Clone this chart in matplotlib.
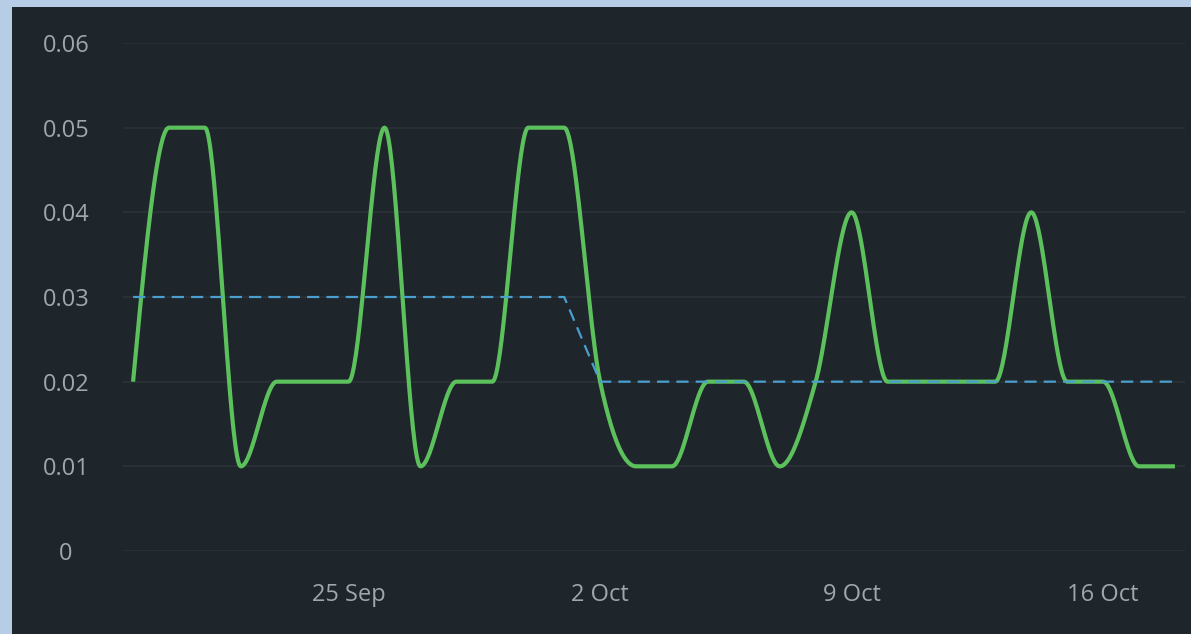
import datetime as dt

import matplotlib.dates as mdates
import matplotlib.pyplot as plt
import numpy as np
from matplotlib.patches import Rectangle
from matplotlib.ticker import FixedLocator, FuncFormatter

# daily values, 19 Sep .. 18 Oct
start = dt.date(2023, 9, 19)
dates = [start + dt.timedelta(days=i) for i in range(30)]
actual = [0.02, 0.05, 0.05, 0.01, 0.02, 0.02, 0.02, 0.05, 0.01, 0.02,
          0.02, 0.05, 0.05, 0.02, 0.01, 0.01, 0.02, 0.02, 0.01, 0.02,
          0.04, 0.02, 0.02, 0.02, 0.02, 0.04, 0.02, 0.02, 0.01, 0.01]
target = [0.03] * 13 + [0.02] * 17
y_ticks = [0, 0.01, 0.02, 0.03, 0.04, 0.05, 0.06]
x_ticks = [dt.date(2023, 9, 25), dt.date(2023, 10, 2),
           dt.date(2023, 10, 9), dt.date(2023, 10, 16)]

BG = "#1e252b"
FRAME = "#b7cde6"
GRID = "#2a3137"
TEXT = "#a0a6ab"
GREEN = "#5cc15d"
BLUE = "#4a9fcf"


def monotone_x(x, y, n=40):
    """Monotone cubic curve through the points (same rule as d3.curveMonotoneX)."""
    x = np.asarray(x, float)
    y = np.asarray(y, float)
    h = np.diff(x)
    s = np.diff(y) / h
    t = np.zeros_like(y)
    for i in range(1, len(y) - 1):
        p = (s[i - 1] * h[i] + s[i] * h[i - 1]) / (h[i - 1] + h[i])
        t[i] = (np.sign(s[i - 1]) + np.sign(s[i])) * min(abs(s[i - 1]), abs(s[i]), 0.5 * abs(p))
    t[0] = (3 * s[0] - t[1]) / 2
    t[-1] = (3 * s[-1] - t[-2]) / 2
    xs, ys = [], []
    u = np.linspace(0, 1, n)
    for i in range(len(x) - 1):
        dx = h[i] / 3
        p0 = (x[i], y[i])
        p1 = (x[i] + dx, y[i] + dx * t[i])
        p2 = (x[i + 1] - dx, y[i + 1] - dx * t[i + 1])
        p3 = (x[i + 1], y[i + 1])
        b = [(1 - u) ** 3, 3 * (1 - u) ** 2 * u, 3 * (1 - u) * u ** 2, u ** 3]
        xs.append(sum(bk * pk[0] for bk, pk in zip(b, (p0, p1, p2, p3))))
        ys.append(sum(bk * pk[1] for bk, pk in zip(b, (p0, p1, p2, p3))))
    return np.concatenate(xs), np.concatenate(ys)


plt.rcParams["font.family"] = ["Open Sans", "DejaVu Sans"]

W, H = 1191, 634
fig = plt.figure(figsize=(W / 100, H / 100), dpi=100, facecolor=FRAME)
fig.patches.append(Rectangle((12 / W, 0), 1 - 12 / W, 1 - 7 / H,
                             transform=fig.transFigure, facecolor=BG,
                             edgecolor="none", zorder=-10))

ax = fig.add_axes([123 / W, 1 - 551 / H, (1185 - 123) / W, (551 - 43) / H])
ax.set_facecolor("none")

xnum = mdates.date2num(dates)
cx, cy = monotone_x(xnum, actual)
ax.plot(cx, cy, color=GREEN, lw=3.0, solid_capstyle="butt", zorder=3, clip_on=False)
ax.plot(xnum, target, color=BLUE, lw=1.6, dashes=(5.5, 3.2), zorder=4, clip_on=False)

ax.set_xlim(xnum[0] - 0.28, xnum[-1] + 0.28)
ax.set_ylim(0, 0.06)

ax.yaxis.set_major_locator(FixedLocator(y_ticks))
ax.yaxis.set_major_formatter(FuncFormatter(lambda v, _: "0" if v == 0 else f"{v:.2f}"))
ax.xaxis.set_major_locator(FixedLocator(mdates.date2num(x_ticks)))
ax.xaxis.set_major_formatter(mdates.DateFormatter("%-d %b"))

ax.grid(axis="y", color=GRID, lw=1.3)
ax.grid(axis="x", visible=False)
for sp in ax.spines.values():
    sp.set_visible(False)
ax.tick_params(axis="both", length=0, colors=TEXT, labelsize=17)
ax.tick_params(axis="y", pad=41)
ax.tick_params(axis="x", pad=23)
for lab in ax.get_yticklabels():
    lab.set_ha("center")

fig.savefig("out.png", dpi=100, facecolor=FRAME)
